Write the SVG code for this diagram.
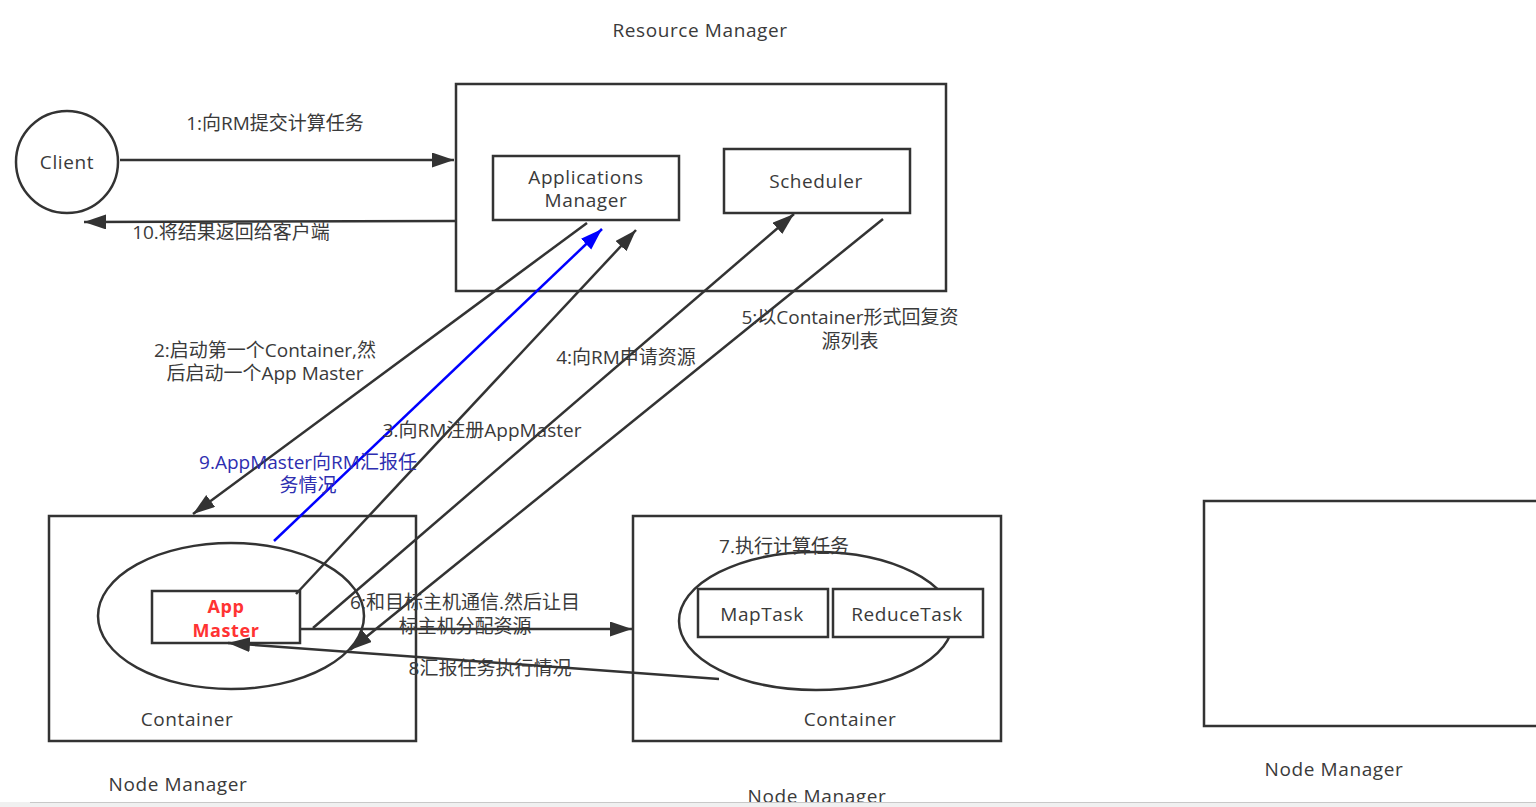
<svg xmlns="http://www.w3.org/2000/svg" width="1536" height="807" viewBox="0 0 1536 807">
<style>
text{font-family:"Open Sans","Noto Sans CJK SC",sans-serif;font-size:19px;fill:#3a3a3a;text-anchor:middle;dominant-baseline:central}
.lat{letter-spacing:0.6px}
.box{fill:#fff;stroke:#333;stroke-width:2.5}
.sh{fill:none;stroke:#333;stroke-width:2.5}
.ln{fill:none;stroke:#333;stroke-width:2.5}
.blue{fill:none;stroke:#0000ff;stroke-width:2.5}
.am{fill:#ff3333;font-weight:bold;font-size:18px;letter-spacing:0.6px}
.bt{fill:#2e2eb0}
</style>
<defs>
<marker id="ah" markerUnits="userSpaceOnUse" markerWidth="24" markerHeight="16" refX="22" refY="7.5" orient="auto"><path d="M0,0 L22,7.5 L0,15 z" fill="#333"/></marker>
<marker id="ahb" markerUnits="userSpaceOnUse" markerWidth="24" markerHeight="16" refX="22" refY="7.5" orient="auto"><path d="M0,0 L22,7.5 L0,15 z" fill="#0000ff"/></marker>
</defs>
<rect width="1536" height="807" fill="#fff"/>
<g id="resource-manager">
<text class="lat" x="700" y="30">Resource Manager</text>
<rect class="box" x="456" y="84" width="490" height="207"/>
</g>
<g id="applications-manager">
<rect class="box" x="493" y="156" width="186" height="64"/>
<text class="lat" x="586" y="177">Applications</text>
<text class="lat" x="586" y="200">Manager</text>
</g>
<g id="scheduler">
<rect class="box" x="724" y="149" width="186" height="64"/>
<text class="lat" x="816" y="181">Scheduler</text>
</g>
<g id="client">
<circle class="sh" cx="67" cy="162" r="51"/>
<text class="lat" x="67" y="162">Client</text>
</g>
<g id="node-manager-1">
<rect class="box" x="49" y="516" width="367" height="225"/>
<ellipse class="sh" cx="231" cy="616" rx="133" ry="73"/>
<text class="lat" x="187" y="719">Container</text>
<text class="lat" x="178" y="784">Node Manager</text>
</g>
<g id="app-master">
<rect class="box" x="152" y="591" width="148" height="52"/>
<text class="am" x="226" y="606">App</text>
<text class="am" x="226" y="630">Master</text>
</g>
<g id="node-manager-2">
<rect class="box" x="633" y="516" width="368" height="225"/>
<ellipse class="sh" cx="816" cy="621" rx="137" ry="69"/>
<text x="784" y="546">7.执行计算任务</text>
<text class="lat" x="850" y="719">Container</text>
<text class="lat" x="817" y="796">Node Manager</text>
</g>
<g id="maptask">
<rect class="box" x="698" y="589" width="130" height="48"/>
<text class="lat" x="762" y="614">MapTask</text>
</g>
<g id="reducetask">
<rect class="box" x="833" y="589" width="150" height="48"/>
<text class="lat" x="907" y="614">ReduceTask</text>
</g>
<g id="node-manager-3">
<rect class="box" x="1204" y="501" width="340" height="225"/>
<text class="lat" x="1334" y="769">Node Manager</text>
</g>
<g id="connectors">
<line class="ln" x1="120" y1="160" x2="454" y2="160" marker-end="url(#ah)"/>
<line class="ln" x1="455" y1="221" x2="84" y2="222" marker-end="url(#ah)"/>
<line class="ln" x1="587" y1="223" x2="193" y2="514" marker-end="url(#ah)"/>
<line class="blue" x1="274" y1="541" x2="602" y2="229" marker-end="url(#ahb)"/>
<line class="ln" x1="296" y1="594" x2="636" y2="230" marker-end="url(#ah)"/>
<line class="ln" x1="313" y1="628" x2="794" y2="214" marker-end="url(#ah)"/>
<line class="ln" x1="883" y1="219" x2="350" y2="650" marker-end="url(#ah)"/>
<line class="ln" x1="300" y1="629" x2="632" y2="629" marker-end="url(#ah)"/>
<line class="ln" x1="719" y1="679" x2="228" y2="643" marker-end="url(#ah)"/>
</g>
<g id="labels">
<text x="275" y="123">1:向RM提交计算任务</text>
<text x="231" y="232">10.将结果返回给客户端</text>
<text x="265" y="350">2:启动第一个Container,然</text>
<text x="265" y="373">后启动一个App Master</text>
<text x="482" y="430">3.向RM注册AppMaster</text>
<text x="626" y="357">4:向RM申请资源</text>
<text x="850" y="317">5:以Container形式回复资</text>
<text x="850" y="341">源列表</text>
<text x="465" y="602">6:和目标主机通信.然后让目</text>
<text x="465" y="626">标主机分配资源</text>
<text x="490" y="668">8汇报任务执行情况</text>
<text class="bt" x="308" y="462">9.AppMaster向RM汇报任</text>
<text class="bt" x="308" y="485">务情况</text>
</g>
<rect x="0" y="802" width="1536" height="5" fill="#f0f0f0"/>
<line x1="30" y1="802.5" x2="1536" y2="802.5" stroke="#c8c8c8" stroke-width="1"/>
</svg>
